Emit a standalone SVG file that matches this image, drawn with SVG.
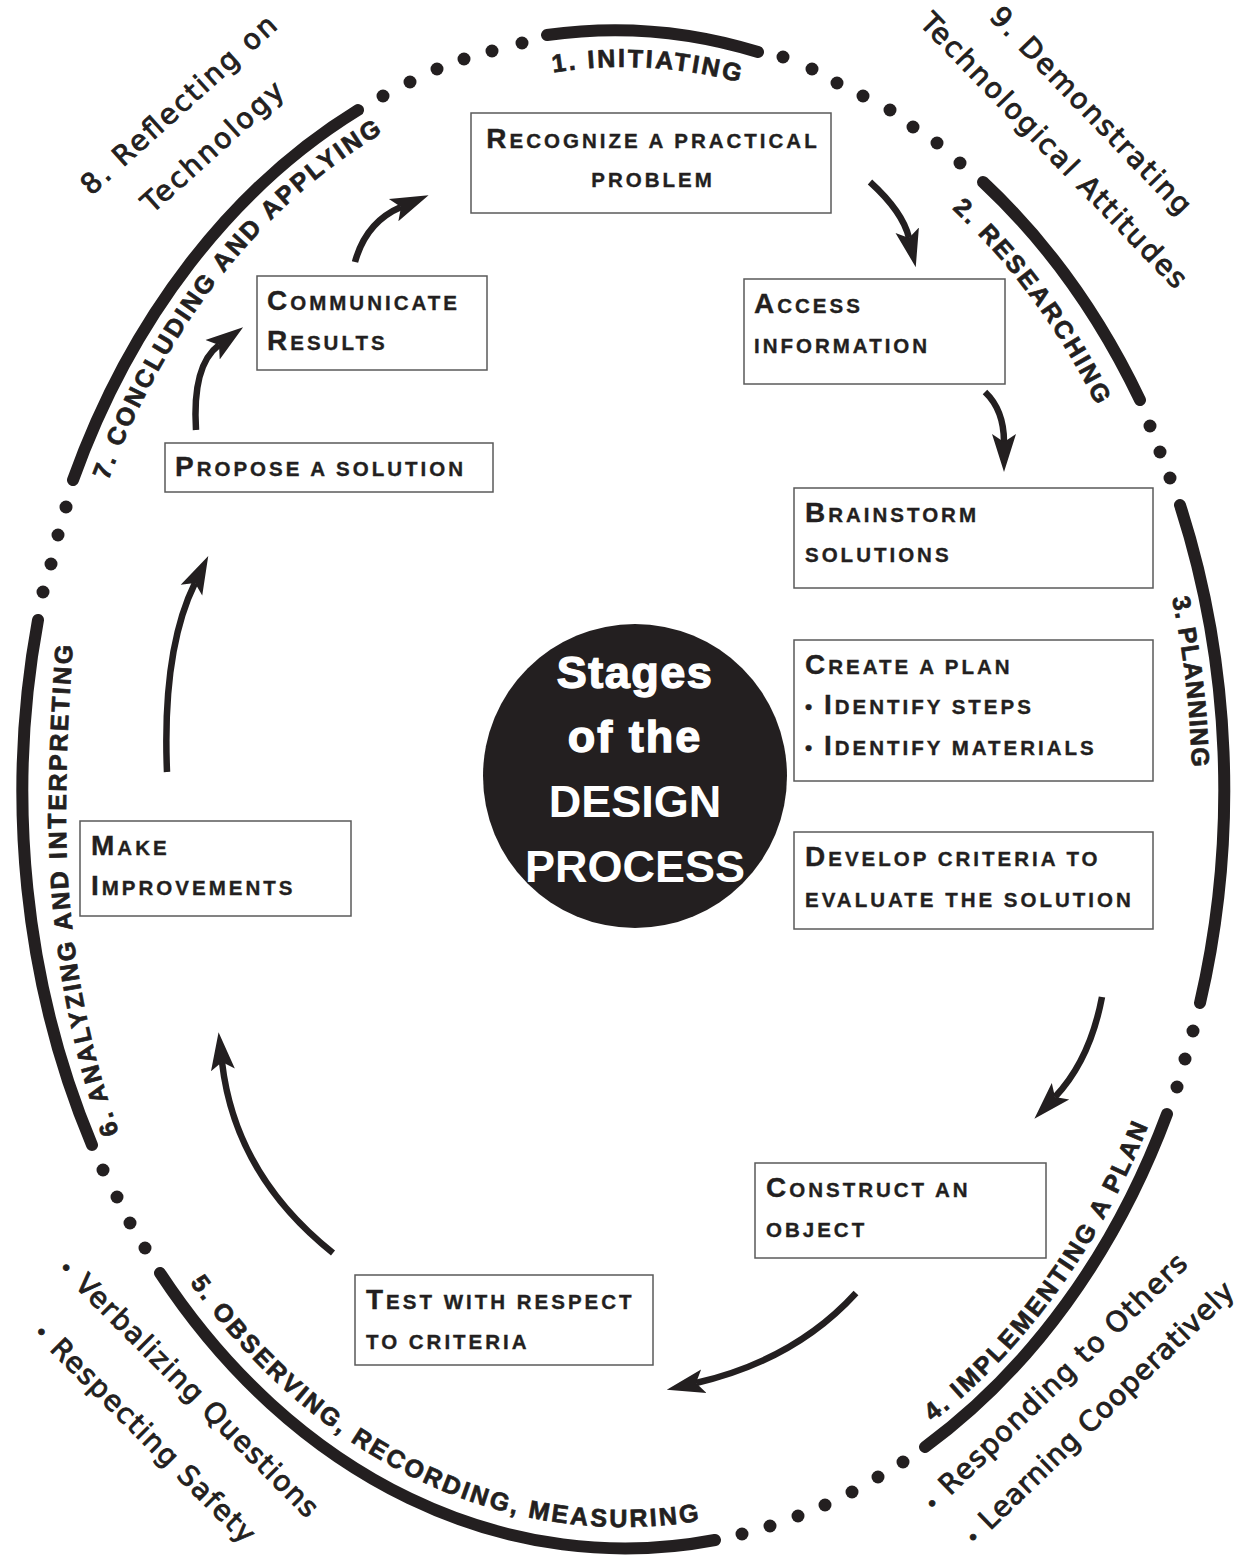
<svg xmlns="http://www.w3.org/2000/svg" width="1244" height="1556" viewBox="0 0 1244 1556">
<defs>
<style>
.ring{fill:none;stroke:#231f20;stroke-width:12;stroke-linecap:round}
.dot{fill:#231f20}
.lbl{font-family:"Liberation Sans",Arial,sans-serif;font-weight:bold;font-size:25px;letter-spacing:2.5px;fill:#231f20;stroke:#231f20;stroke-width:0.7px}
.box{fill:#fff;stroke:#5a5a5a;stroke-width:1.5}
.bt{font-family:"Liberation Sans",Arial,sans-serif;font-weight:bold;font-size:20.5px;letter-spacing:3px;fill:#231f20;stroke:#231f20;stroke-width:0.35px}
.big{font-size:28px}
.arrow{fill:none;stroke:#231f20;stroke-width:6.5}
.comic{font-family:"DejaVu Sans",sans-serif;font-size:28px;fill:#231f20;stroke:#231f20;stroke-width:0.9px}
.bul{font-size:20px}
.ctr{font-family:"Liberation Sans",Arial,sans-serif;font-weight:bold;fill:#fff;text-anchor:middle;font-size:45px}
.heavy{stroke:#fff;stroke-width:1.4px;letter-spacing:1.5px}
</style>
<marker id="ah" markerUnits="userSpaceOnUse" markerWidth="40" markerHeight="30" viewBox="0 0 40 30" refX="8" refY="15" orient="auto">
<path d="M38 15 L0 3 L8 15 L0 27 Z" fill="#231f20"/>
</marker>
<path id="p1" d="M553 72.5 A567 722 0 0 1 1057.3 324.9"/>
<path id="p2" d="M952 209 A561 716 0 0 1 1164.9 974.3"/>
<path id="p3" d="M1171.9 598 A569 724 0 0 1 1058.9 1254.4"/>
<path id="p4" d="M932.5 1422 A589 744 0 0 0 1212 789"/>
<path id="p5" d="M189.8 1282.8 A583 738 0 0 0 957.4 1393.6"/>
<path id="p6" d="M119 1133 C86 1040 66 930 66 820 C66 740 70 680 77 590"/>
<path id="p7" d="M108.2 480.7 A569 724 0 0 1 817.6 108.7"/>
</defs>
<rect width="1244" height="1556" fill="#fff"/>

<g id="ring">
<path class="ring" d="M547 35 A603 758 0 0 1 758 52"/>
<path class="ring" d="M983 182 A603 758 0 0 1 1140 400"/>
<path class="ring" d="M1180 505 A603 758 0 0 1 1200 1003"/>
<path class="ring" d="M1167 1114 A603 758 0 0 1 925 1447"/>
<path class="ring" d="M715 1540 A603 758 0 0 1 160 1273"/>
<path class="ring" d="M92 1145 A603 758 0 0 1 38 620"/>
<path class="ring" d="M73 480 A603 758 0 0 1 358 110"/>
<circle class="dot" cx="522" cy="43" r="6.5"/><circle class="dot" cx="492" cy="51" r="6.5"/><circle class="dot" cx="464" cy="59" r="6.5"/><circle class="dot" cx="437" cy="69" r="6.5"/><circle class="dot" cx="410" cy="82" r="6.5"/><circle class="dot" cx="383" cy="96" r="6.5"/>
<circle class="dot" cx="783" cy="57" r="6.5"/><circle class="dot" cx="812" cy="69" r="6.5"/><circle class="dot" cx="837" cy="83" r="6.5"/><circle class="dot" cx="863" cy="96" r="6.5"/><circle class="dot" cx="890" cy="110" r="6.5"/><circle class="dot" cx="913" cy="127" r="6.5"/><circle class="dot" cx="937" cy="143" r="6.5"/><circle class="dot" cx="960" cy="163" r="6.5"/>
<circle class="dot" cx="1150" cy="426" r="6.5"/><circle class="dot" cx="1160" cy="452" r="6.5"/><circle class="dot" cx="1170" cy="478" r="6.5"/>
<circle class="dot" cx="1193" cy="1031" r="6.5"/><circle class="dot" cx="1185" cy="1059" r="6.5"/><circle class="dot" cx="1177" cy="1087" r="6.5"/>
<circle class="dot" cx="903" cy="1462" r="6.5"/><circle class="dot" cx="878" cy="1477" r="6.5"/><circle class="dot" cx="852" cy="1492" r="6.5"/><circle class="dot" cx="825" cy="1505" r="6.5"/><circle class="dot" cx="798" cy="1516" r="6.5"/><circle class="dot" cx="770" cy="1526" r="6.5"/><circle class="dot" cx="742" cy="1534" r="6.5"/>
<circle class="dot" cx="145" cy="1248" r="6.5"/><circle class="dot" cx="130" cy="1223" r="6.5"/><circle class="dot" cx="117" cy="1197" r="6.5"/><circle class="dot" cx="103" cy="1170" r="6.5"/>
<circle class="dot" cx="43" cy="592" r="6.5"/><circle class="dot" cx="51" cy="564" r="6.5"/><circle class="dot" cx="58" cy="535" r="6.5"/><circle class="dot" cx="66" cy="507" r="6.5"/>
</g>

<g id="stage-labels">
<text class="lbl"><textPath href="#p1">1. INITIATING</textPath></text>
<text class="lbl"><textPath href="#p2">2. RESEARCHING</textPath></text>
<text class="lbl" style="letter-spacing:1.2px"><textPath href="#p3">3. PLANNING</textPath></text>
<text class="lbl"><textPath href="#p4">4. IMPLEMENTING A PLAN</textPath></text>
<text class="lbl"><textPath href="#p5">5. OBSERVING, RECORDING, MEASURING</textPath></text>
<text class="lbl"><textPath href="#p6">6. ANALYZING AND INTERPRETING</textPath></text>
<text class="lbl"><textPath href="#p7">7. CONCLUDING AND APPLYING</textPath></text>
</g>

<g id="outer-notes">
<text class="comic" text-anchor="middle" textLength="252" lengthAdjust="spacing" transform="translate(185 112) rotate(-42)">8. Reflecting on</text>
<text class="comic" text-anchor="middle" textLength="180" lengthAdjust="spacing" transform="translate(219 154) rotate(-42)">Technology</text>
<text class="comic" text-anchor="middle" textLength="276" lengthAdjust="spacing" transform="translate(1084 117) rotate(46)">9. Demonstrating</text>
<text class="comic" text-anchor="middle" textLength="370" lengthAdjust="spacing" transform="translate(1047 157) rotate(46)">Technological Attitudes</text>
<text class="comic" text-anchor="middle" textLength="356" lengthAdjust="spacing" transform="translate(1061 1389) rotate(-44)"><tspan class="bul">•</tspan> Responding to Others</text>
<text class="comic" text-anchor="middle" textLength="364" lengthAdjust="spacing" transform="translate(1105 1420) rotate(-44)"><tspan class="bul">•</tspan> Learning Cooperatively</text>
<text class="comic" text-anchor="middle" textLength="354" lengthAdjust="spacing" transform="translate(182 1394) rotate(45)"><tspan class="bul">•</tspan> Verbalizing Questions</text>
<text class="comic" text-anchor="middle" textLength="300" lengthAdjust="spacing" transform="translate(138 1439) rotate(45)"><tspan class="bul">•</tspan> Respecting Safety</text>
</g>

<g id="center">
<circle cx="635" cy="776" r="152" fill="#231f20"/>
<text class="ctr heavy" x="635" y="688">Stages</text>
<text class="ctr heavy" x="635" y="752" style="letter-spacing:2px">of the</text>
<text class="ctr" x="635" y="817">DESIGN</text>
<text class="ctr" x="635" y="882">PROCESS</text>
</g>

<g id="n1-recognize">
<rect class="box" x="471" y="113" width="360" height="100"/>
<text class="bt" x="653" y="148" text-anchor="middle"><tspan class="big">R</tspan>ECOGNIZE A PRACTICAL</text>
<text class="bt" x="653" y="187" text-anchor="middle">PROBLEM</text>
</g>
<g id="n2-access">
<rect class="box" x="744" y="279" width="261" height="105"/>
<text class="bt" x="754" y="313"><tspan class="big">A</tspan>CCESS</text>
<text class="bt" x="754" y="353">INFORMATION</text>
</g>
<g id="n3-brainstorm">
<rect class="box" x="794" y="488" width="359" height="100"/>
<text class="bt" x="805" y="522"><tspan class="big">B</tspan>RAINSTORM</text>
<text class="bt" x="805" y="562">SOLUTIONS</text>
</g>
<g id="n4-plan">
<rect class="box" x="794" y="640" width="359" height="141"/>
<text class="bt" x="805" y="674"><tspan class="big">C</tspan>REATE A PLAN</text>
<text class="bt" x="805" y="714">• <tspan class="big">I</tspan>DENTIFY STEPS</text>
<text class="bt" x="805" y="755">• <tspan class="big">I</tspan>DENTIFY MATERIALS</text>
</g>
<g id="n5-criteria">
<rect class="box" x="794" y="832" width="359" height="97"/>
<text class="bt" x="805" y="866"><tspan class="big">D</tspan>EVELOP CRITERIA TO</text>
<text class="bt" x="805" y="907">EVALUATE THE SOLUTION</text>
</g>
<g id="n6-construct">
<rect class="box" x="755" y="1163" width="291" height="95"/>
<text class="bt" x="766" y="1197"><tspan class="big">C</tspan>ONSTRUCT AN</text>
<text class="bt" x="766" y="1237">OBJECT</text>
</g>
<g id="n7-test">
<rect class="box" x="355" y="1275" width="298" height="90"/>
<text class="bt" x="366" y="1309"><tspan class="big">T</tspan>EST WITH RESPECT</text>
<text class="bt" x="366" y="1349">TO CRITERIA</text>
</g>
<g id="n8-improve">
<rect class="box" x="80" y="821" width="271" height="95"/>
<text class="bt" x="91" y="855"><tspan class="big">M</tspan>AKE</text>
<text class="bt" x="91" y="895"><tspan class="big">I</tspan>MPROVEMENTS</text>
</g>
<g id="n9-propose">
<rect class="box" x="165" y="443" width="328" height="49"/>
<text class="bt" x="175" y="476"><tspan class="big">P</tspan>ROPOSE A SOLUTION</text>
</g>
<g id="n10-communicate">
<rect class="box" x="257" y="276" width="230" height="94"/>
<text class="bt" x="267" y="310"><tspan class="big">C</tspan>OMMUNICATE</text>
<text class="bt" x="267" y="350"><tspan class="big">R</tspan>ESULTS</text>
</g>

<g id="connectors">
<path class="arrow" marker-end="url(#ah)" d="M870 182 Q903 212 909 238"/>
<path class="arrow" marker-end="url(#ah)" d="M985 392 Q1004 410 1004 442"/>
<path class="arrow" marker-end="url(#ah)" d="M1102 997 Q1090 1060 1055 1097"/>
<path class="arrow" marker-end="url(#ah)" d="M856 1293 Q795 1360 696 1383"/>
<path class="arrow" marker-end="url(#ah)" d="M333 1253 Q235 1175 222 1062"/>
<path class="arrow" marker-end="url(#ah)" d="M167 772 Q162 650 195 583"/>
<path class="arrow" marker-end="url(#ah)" d="M196 430 Q192 365 219 345"/>
<path class="arrow" marker-end="url(#ah)" d="M355 262 Q366 222 401 207"/>
</g>
</svg>
